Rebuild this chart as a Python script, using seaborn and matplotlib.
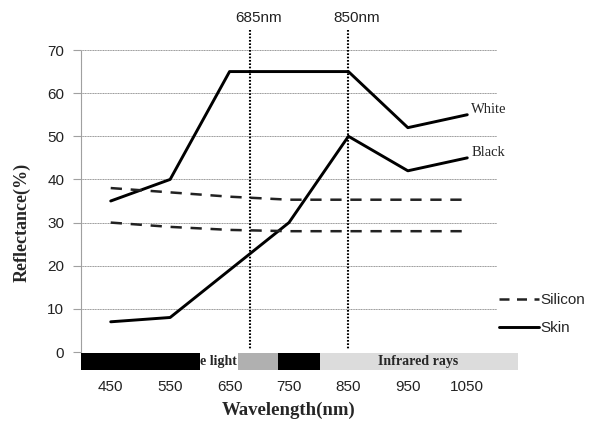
import numpy as np
import pandas as pd
import matplotlib
matplotlib.use("Agg")
import matplotlib.pyplot as plt
import seaborn as sns
from matplotlib.lines import Line2D
from matplotlib.patches import Rectangle

# ---- data ----
wavelengths = [450, 550, 650, 750, 850, 950, 1050]
skin_white = [35, 40, 65, 65, 65, 52, 55]
skin_black = [7, 8, 19, 30, 50, 42, 45]
silicon_upper = [38, 37, 36, 35.3, 35.3, 35.3, 35.3]
silicon_lower = [30, 29, 28.3, 28, 28, 28, 28]
marker_nm = [685, 850]
marker_labels = ["685nm", "850nm"]
y_ticks = [0, 10, 20, 30, 40, 50, 60, 70]
band_edges = [400, 600, 664, 731, 802, 1135]
band_names = ["", "e light", "", "", "Infrared rays"]

sns.set_theme(style="white")
plt.rcParams['font.family'] = ['Liberation Sans', 'DejaVu Sans']

fig = plt.figure(figsize=(5.95, 4.23), dpi=100)
ax = fig.add_axes([81/595, 1-352/423, (497-81)/595, (352-50)/423])

df = pd.concat([
    pd.DataFrame({"wl": wavelengths, "r": skin_white, "series": "White", "kind": "Skin"}),
    pd.DataFrame({"wl": wavelengths, "r": skin_black, "series": "Black", "kind": "Skin"}),
    pd.DataFrame({"wl": wavelengths, "r": silicon_upper, "series": "SiU", "kind": "Silicon"}),
    pd.DataFrame({"wl": wavelengths, "r": silicon_lower, "series": "SiL", "kind": "Silicon"}),
])

for name, sub in df.groupby("series", sort=False):
    kind = sub["kind"].iloc[0]
    if kind == "Skin":
        sns.lineplot(data=sub, x="wl", y="r", ax=ax, color="black", lw=2.1,
                     estimator=None, legend=False, zorder=4)
    else:
        sns.lineplot(data=sub, x="wl", y="r", ax=ax, color="#222222", lw=1.8,
                     estimator=None, legend=False, dashes=False, zorder=4,
                     linestyle=(0, (4.5, 3.5)))

ax.set_xlim(400, 1100)
ax.set_ylim(0, 70)
ax.set_yticks(y_ticks)
ax.set_xticks(wavelengths)
ax.set_xticklabels([str(w) for w in wavelengths])

# grid
for y in y_ticks:
    ax.axhline(y, color="#9a9a9a", lw=0.7, ls=(0, (1.2, 0.5)), zorder=1)
for s in ["top", "right", "bottom"]:
    ax.spines[s].set_visible(False)
ax.spines["left"].set_color("#a0a0a0")
ax.spines["left"].set_linewidth(0.8)
ax.spines["left"].set_linestyle((0, (1, 0.8)))

ax.tick_params(axis="y", length=6, width=0.8, color="#a0a0a0", pad=6,
               labelsize=11, labelcolor="#222222", left=True)
ax.tick_params(axis="x", length=0, pad=20, labelsize=11, labelcolor="#222222")

# vertical markers
for nm, lab in zip(marker_nm, marker_labels):
    ax.plot([nm, nm], [74.7, 0.5], color="black", lw=1.5, ls=(0, (0.8, 0.8)),
            clip_on=False, zorder=5)
    ax.text(nm + 14, 77.5, lab, ha="center", va="center", fontsize=11,
            color="#222222")

# spectrum band below axis
band_colors = ["black", "white", "#b0b0b0", "black", "#dcdcdc"]
for i in range(len(band_names)):
    x0, x1 = band_edges[i], band_edges[i + 1]
    ax.add_patch(Rectangle((x0, -0.3), x1 - x0, -3.9, facecolor=band_colors[i],
                           edgecolor="none", clip_on=False, zorder=3))
    if band_names[i]:
        cx = (x0 + x1) / 2 if i == 1 else 967
        ax.text(cx, -2.3, band_names[i], ha="center", va="center",
                fontsize=10, fontweight="bold", family="Liberation Serif",
                clip_on=False, zorder=6)

# series labels
ax.text(1057, 56.3, "White", ha="left", va="center", fontsize=10.5,
        family="Liberation Serif", clip_on=False)
ax.text(1057, 46.3, "Black", ha="left", va="center", fontsize=10.5,
        family="Liberation Serif", clip_on=False)

ax.set_xlabel("Wavelength(nm)", fontsize=13.5, fontweight="bold",
              family="Liberation Serif", labelpad=6)
ax.set_ylabel("Reflectance(%)", fontsize=13, fontweight="bold",
              family="Liberation Serif")
ax.yaxis.set_label_coords(-0.12, 0.43)

handles = [Line2D([], [], color="#222222", lw=1.8, ls=(0, (4, 3))),
           Line2D([], [], color="black", lw=2.1)]
ax.legend(handles, ["Silicon", "Skin"], frameon=False, loc="center left",
          bbox_to_anchor=(0.98, 0.125), fontsize=11, handlelength=2.6,
          handletextpad=0.1, labelspacing=0.9, borderaxespad=0.3)

fig.savefig("out.png", dpi=100)
